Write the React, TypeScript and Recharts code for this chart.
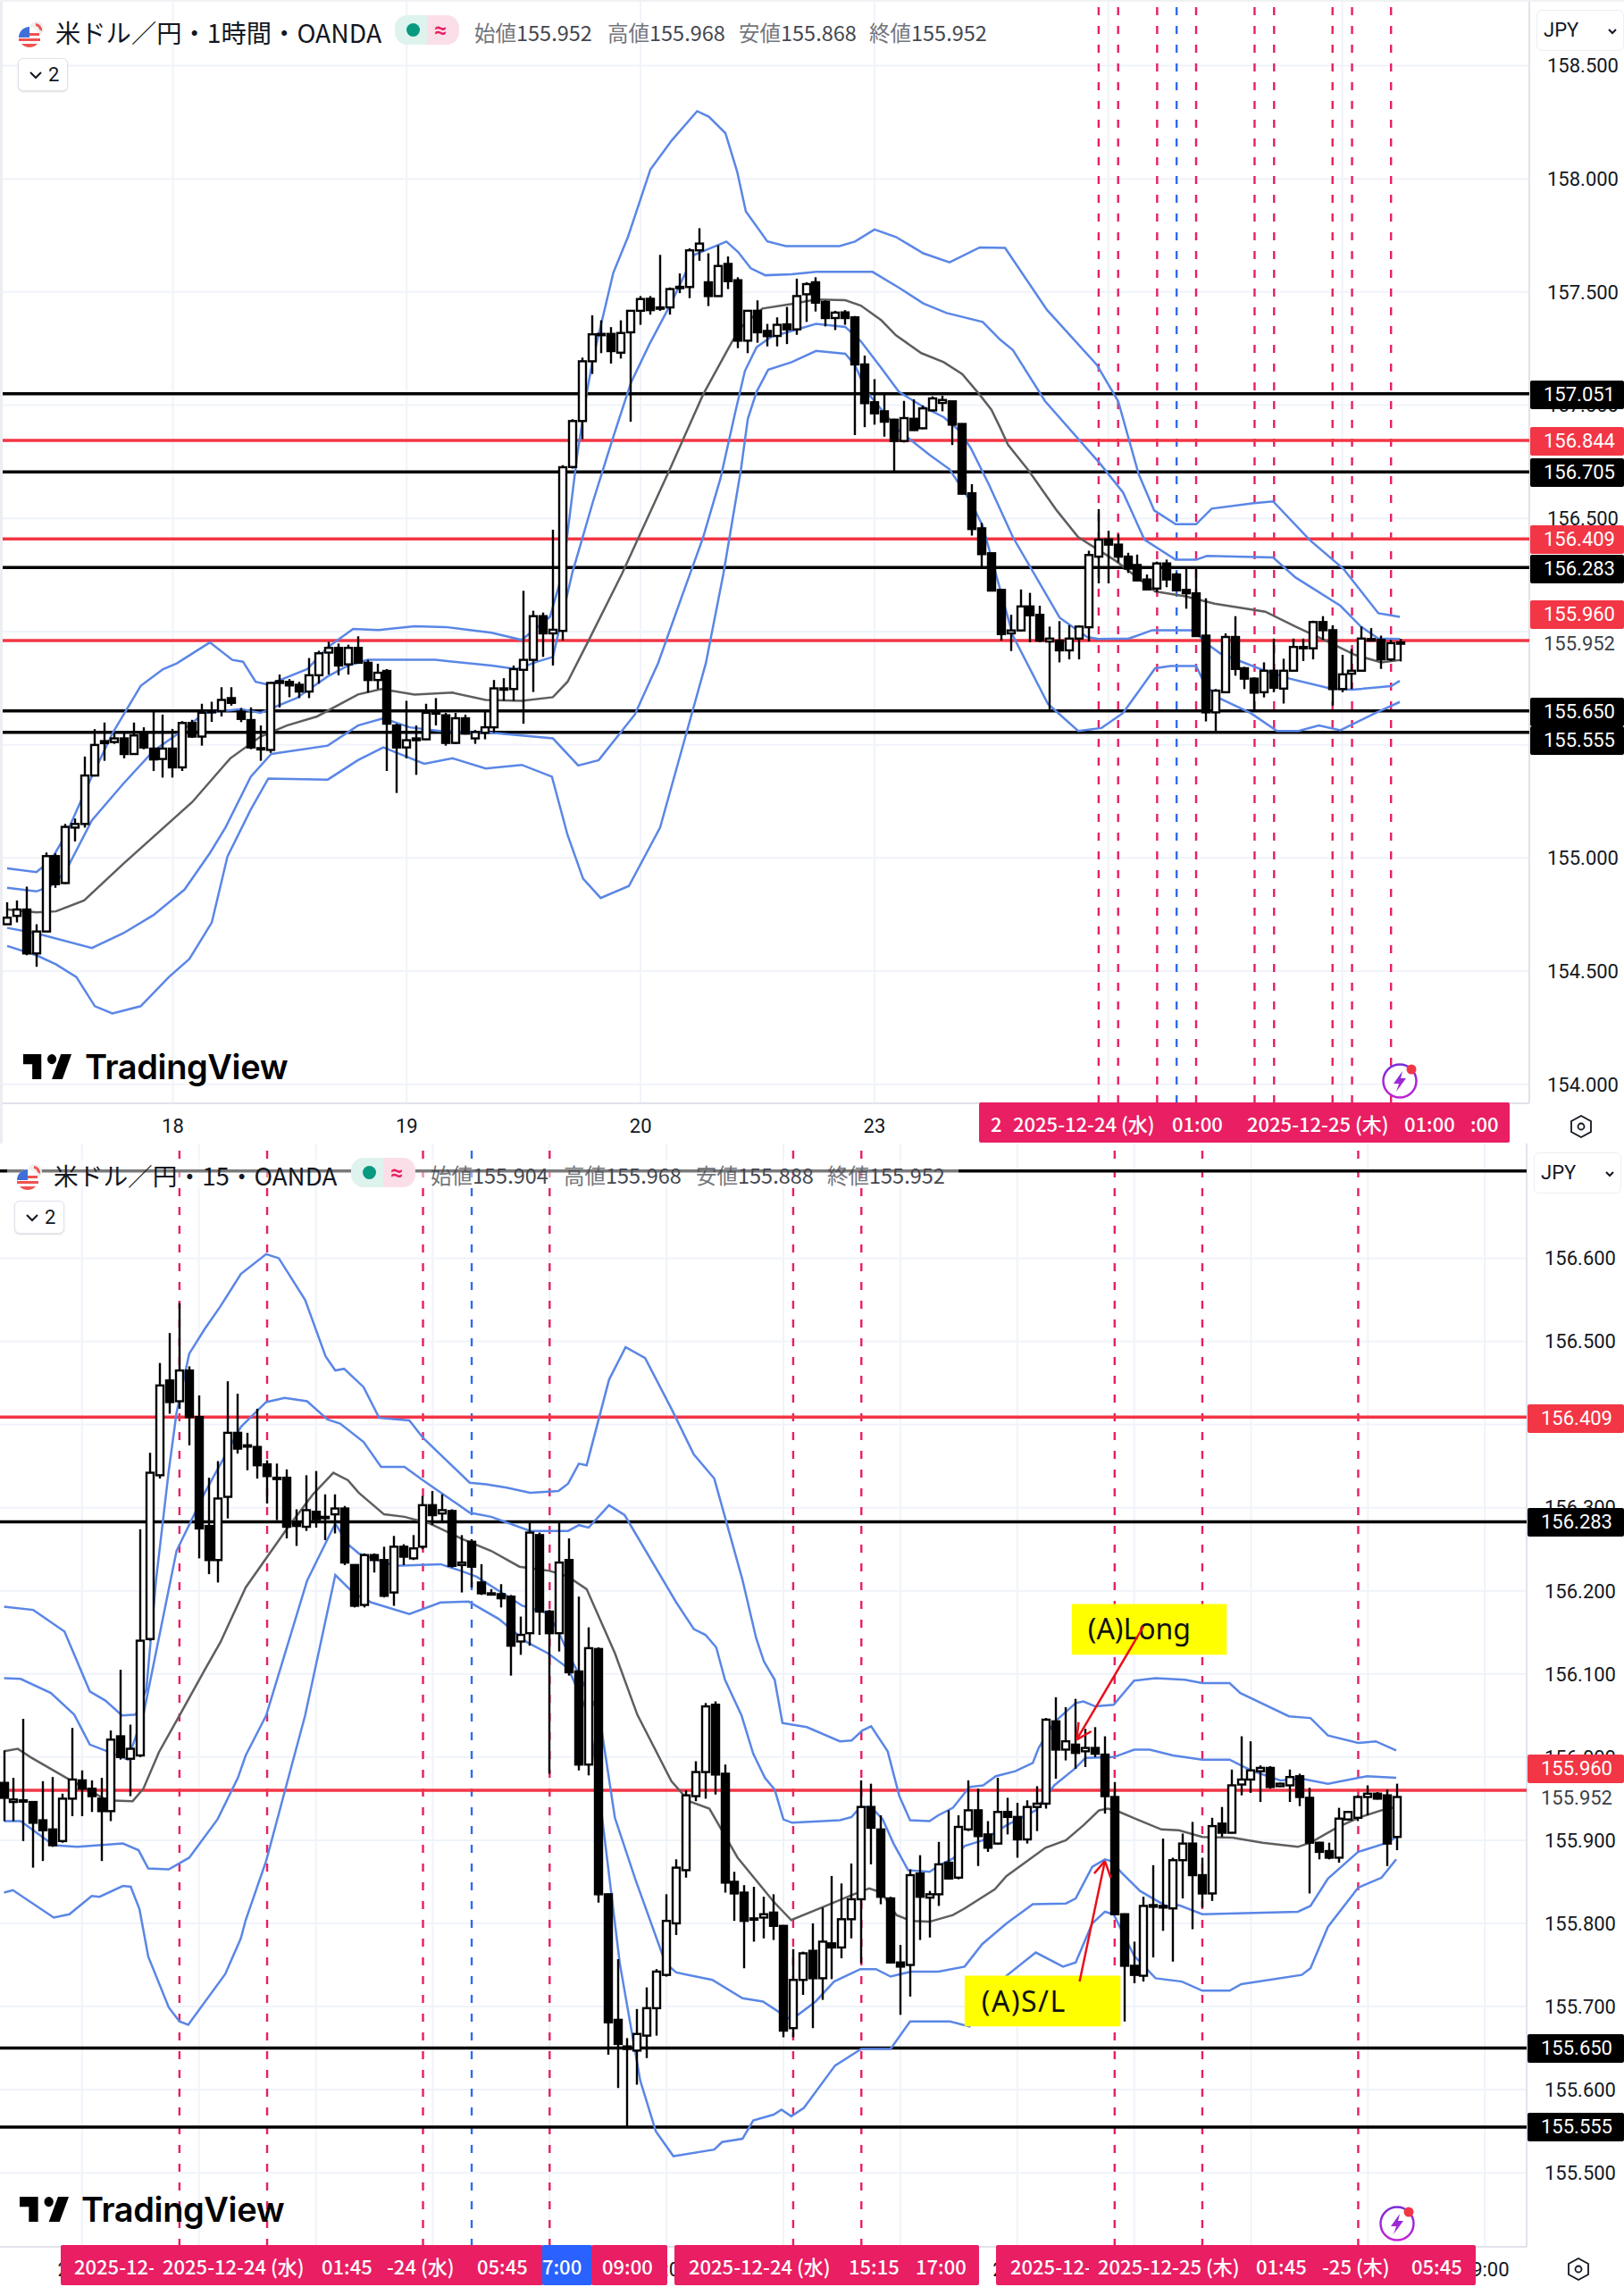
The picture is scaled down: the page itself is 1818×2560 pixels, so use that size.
import {
  Bar,
  CartesianGrid,
  ComposedChart,
  Line,
  ReferenceArea,
  ReferenceLine,
  XAxis,
  YAxis,
} from 'recharts';

// ---- 1 hour panel ----
const h1Open = [
  154.707,154.744,154.772,154.578,154.675,155.008,154.889,155.134,155.15,155.364,
  155.507,155.512,155.528,155.459,155.549,155.483,155.437,155.483,155.4,155.596,
  155.536,155.645,155.649,155.706,155.646,155.609,155.485,155.477,155.781,155.778,
  155.765,155.735,155.807,155.907,155.928,155.855,155.928,155.862,155.786,155.826,
  155.585,155.488,155.528,155.524,155.643,155.63,155.508,155.617,155.528,155.553,
  155.577,155.749,155.746,155.831,155.875,156.068,155.992,156.003,156.727,156.93,
  157.194,157.311,157.315,157.232,157.322,157.417,157.47,157.432,157.432,157.52,
  157.522,157.684,157.543,157.482,157.624,157.552,157.285,157.417,157.328,157.306,
  157.357,157.335,157.49,157.543,157.456,157.385,157.41,157.388,157.18,157.013,
  156.973,156.936,156.842,156.94,156.898,156.977,157.01,157.017,156.917,156.611,
  156.456,156.346,156.184,155.992,156.005,156.111,156.074,155.956,155.96,155.917,
  155.969,156.019,156.331,156.407,156.384,156.331,156.294,156.23,156.19,156.301,
  156.252,156.184,156.169,155.982,155.643,155.732,155.976,155.838,155.792,155.732,
  155.827,155.748,155.827,155.932,155.926,156.042,156.006,155.746,155.814,155.827,
  155.967,155.963,155.877,155.95,
];
const h1High = [
  154.804,154.812,154.873,154.707,155.024,155.02,155.15,155.174,155.448,155.569,
  155.598,155.553,155.553,155.598,155.577,155.649,155.633,155.57,155.604,155.61,
  155.681,155.69,155.754,155.754,155.662,155.665,155.585,155.778,155.81,155.79,
  155.778,155.883,155.915,155.955,155.947,155.942,155.979,155.875,155.858,155.834,
  155.593,155.694,155.585,155.681,155.706,155.641,155.641,155.633,155.565,155.649,
  155.786,155.794,155.85,156.18,156.092,156.084,156.45,156.735,156.938,157.21,
  157.397,157.375,157.345,157.375,157.42,157.482,157.482,157.664,157.52,157.582,
  157.693,157.782,157.671,157.706,157.657,157.565,157.42,157.463,157.359,157.388,
  157.434,157.559,157.543,157.565,157.463,157.417,157.42,157.394,157.219,157.115,
  157.046,156.94,157.019,157.026,156.999,157.039,157.042,157.02,156.92,156.651,
  156.48,156.348,156.186,156.074,156.186,156.171,156.114,156.022,156.046,156.028,
  156.028,156.357,156.541,156.445,156.43,156.348,156.34,156.252,156.309,156.318,
  156.261,156.276,156.278,156.147,155.746,155.992,156.068,155.844,155.798,155.864,
  155.969,155.88,155.969,155.969,156.048,156.068,156.028,155.897,155.923,156.022,
  156.015,155.982,155.963,155.968,
];
const h1Low = [
  154.707,154.715,154.57,154.519,154.672,154.868,154.885,155.073,155.134,155.36,
  155.429,155.504,155.44,155.457,155.48,155.384,155.355,155.355,155.384,155.53,
  155.496,155.601,155.625,155.673,155.6,155.48,155.429,155.464,155.665,155.71,
  155.706,155.706,155.77,155.81,155.807,155.81,155.858,155.73,155.746,155.384,
  155.287,155.44,155.367,155.52,155.585,155.496,155.504,155.545,155.504,155.524,
  155.553,155.694,155.694,155.593,155.733,155.888,155.85,155.96,156.72,156.85,
  157.138,157.23,157.184,157.206,156.927,157.355,157.4,157.417,157.4,157.495,
  157.473,157.638,157.438,157.48,157.513,157.252,157.23,157.276,157.26,157.26,
  157.27,157.311,157.368,157.414,157.348,157.332,157.355,156.868,156.903,156.914,
  156.861,156.706,156.835,156.887,156.894,156.973,156.973,156.824,156.605,156.424,
  156.282,156.18,155.96,155.914,156.0,155.953,155.953,155.651,155.864,155.877,
  155.877,155.956,156.213,156.213,156.305,156.259,156.222,156.182,156.173,156.196,
  156.18,156.101,155.976,155.603,155.555,155.73,155.805,155.746,155.653,155.709,
  155.732,155.682,155.822,155.87,155.877,155.963,155.673,155.732,155.746,155.824,
  155.956,155.835,155.87,155.868,
];
const h1Close = [
  154.736,154.772,154.578,154.675,155.008,154.884,155.137,155.15,155.364,155.499,
  155.516,155.528,155.459,155.541,155.488,155.435,155.483,155.4,155.596,155.536,
  155.641,155.649,155.698,155.685,155.614,155.488,155.481,155.773,155.773,155.762,
  155.735,155.807,155.904,155.928,155.85,155.928,155.862,155.786,155.818,155.593,
  155.488,155.52,155.52,155.641,155.638,155.508,155.617,155.549,155.556,155.577,
  155.749,155.743,155.834,155.875,156.068,155.992,156.008,156.726,156.93,157.194,
  157.313,157.315,157.239,157.319,157.417,157.469,157.42,157.429,157.513,157.523,
  157.684,157.714,157.482,157.615,157.548,157.285,157.417,157.322,157.305,157.355,
  157.335,157.482,157.535,157.453,157.385,157.409,157.385,157.18,157.009,156.964,
  156.927,156.842,156.943,156.89,156.986,157.03,157.023,156.914,156.609,156.453,
  156.342,156.181,155.989,156.005,156.111,156.072,155.96,155.969,155.917,155.969,
  156.022,156.338,156.406,156.384,156.331,156.278,156.226,156.186,156.301,156.23,
  156.182,156.169,155.98,155.643,155.739,155.976,155.835,155.792,155.73,155.827,
  155.752,155.827,155.932,155.926,156.042,156.006,155.746,155.811,155.827,155.969,
  155.96,155.877,155.949,155.952,
];
const h1Upper2 = [
  [0,154.954],[3,154.937],[4.5,154.99],[6,155.1],[8.7,155.36],[10.8,155.55],[13.7,155.76],[16,155.834],[17.4,155.859],
  [20.8,155.952],[23.1,155.875],[24.2,155.867],[25.5,155.778],[26.8,155.765],[30.8,155.834],[32.9,155.931],[35.5,156.012],
  [38.1,156.007],[41.8,156.023],[45,156.02],[49.7,155.995],[52.8,155.963],[55.7,156.065],[57,156.26],[58.5,156.782],
  [59.5,157.06],[60.1,157.203],[62.2,157.585],[63.7,157.743],[66,158.041],[68.2,158.17],[70.8,158.299],[72,158.275],[73.7,158.202],
  [74.9,158.033],[75.8,157.856],[78,157.724],[79.9,157.703],[85.4,157.703],[87,157.723],[89,157.776],[91.2,157.743],[94,157.671],[96.7,157.631],
  [99.8,157.697],[102.4,157.695],[106.7,157.421],[111.8,157.179],[114,157.018],[116.1,156.696],[117.7,156.535],
  [119.9,156.474],[122,156.474],[123.6,156.543],[127.9,156.567],[129.9,156.575],[133.7,156.403],[137.1,156.278],
  [140.7,156.081],[142.9,156.065],
];
const h1Upper1 = [
  [0,154.868],[3,154.852],[4.5,154.876],[6,154.941],[8.7,155.166],[11.9,155.327],[15,155.472],[17.4,155.545],[20.3,155.641],
  [24,155.657],[26,155.641],[29.7,155.706],[32.9,155.802],[35,155.85],[37,155.875],[43.9,155.875],[49.7,155.85],[52.3,155.834],
  [54.4,155.867],[56,155.888],[58,156.261],[58.5,156.335],[60.1,156.572],[62.2,156.861],[64,157.098],[65.9,157.269],[68,157.44],
  [70.5,157.664],[73.1,157.71],[73.8,157.723],[75,157.677],[76.3,157.605],[77.8,157.574],[80.5,157.578],[83,157.589],
  [88.8,157.589],[91.5,157.519],[94,157.45],[96.4,157.407],[100.1,157.368],[101.9,157.289],[103.2,157.244],[106.5,157.018],
  [112.1,156.744],[114.5,156.615],[116.7,156.406],[119.9,156.317],[122,156.317],[123.1,156.334],[129.9,156.327],[132.2,156.239],
  [136.8,156.114],[138.9,156.022],[140.7,155.969],[142.9,155.967],
];
const h1Basis = [
  [0,154.772],[3,154.76],[5,154.764],[7.9,154.812],[11.9,154.973],[19,155.247],[22.9,155.44],[26,155.536],[28.7,155.585],
  [31.8,155.625],[36,155.722],[38.4,155.746],[41.8,155.722],[45.7,155.73],[49.1,155.698],[52.8,155.694],[56,155.71],[57.5,155.778],
  [59.6,155.955],[63.1,156.256],[68,156.717],[71.4,157.046],[74.4,157.282],[75.4,157.348],[77.5,157.427],[80.5,157.447],
  [83,157.467],[86,157.464],[87.6,157.44],[89.7,157.375],[91.2,157.309],[93.8,157.23],[96.1,157.19],[98,157.138],[99.8,157.046],
  [101,156.98],[101.9,156.9],[102.7,156.825],[104.8,156.712],[107.7,156.535],[109.9,156.417],[113.8,156.311],[117.8,156.177],
  [120.9,156.156],[123.9,156.123],[129.1,156.088],[132.2,156.022],[135.5,155.956],[138.3,155.897],[141,155.864],[142.9,155.874],
];
const h1Lower1 = [
  [0,154.691],[3,154.667],[8.7,154.602],[11.9,154.667],[15,154.747],[18.2,154.86],[20.8,155.021],[22.4,155.134],[25,155.359],
  [27.1,155.459],[32.9,155.496],[36,155.585],[38.6,155.617],[41.3,155.577],[44.4,155.561],[49.7,155.553],[56,155.528],[58.6,155.408],
  [60.7,155.432],[64.4,155.633],[66.8,155.861],[69.2,156.151],[71.4,156.414],[73.2,156.677],[74.7,156.967],[75.7,157.151],
  [76.9,157.256],[78.4,157.302],[80.5,157.328],[83,157.359],[86,157.346],[87.6,157.282],[89.7,157.164],[91.5,157.059],[94,156.993],
  [96.1,156.947],[97.7,156.888],[98.9,156.809],[100.7,156.653],[103.2,156.417],[108,156.061],[110.8,155.976],[112,155.967],
  [115.1,155.969],[117.5,156.006],[121.8,156.006],[123,155.949],[124.5,155.903],[128.8,155.831],[131.6,155.792],[135.8,155.748],
  [138,155.743],[142,155.759],[142.9,155.782],
];
const h1Lower2 = [
  [0,154.611],[3,154.57],[5,154.53],[7.1,154.474],[9,154.345],[10.8,154.313],[13.7,154.345],[16.6,154.474],[18.7,154.554],
  [21,154.715],[22.6,155.005],[25,155.214],[26.8,155.351],[32.9,155.346],[36,155.432],[38.6,155.488],[42.8,155.416],[45.7,155.44],
  [49.1,155.395],[52.8,155.411],[55.9,155.359],[57.5,155.102],[59.1,154.908],[60.9,154.823],[63.8,154.876],[67,155.134],
  [69.6,155.536],[71.7,155.861],[73.5,156.256],[75.3,156.717],[76,156.94],[76.9,157.059],[78.1,157.157],[80.5,157.19],[83,157.24],
  [86,157.227],[87,157.177],[88.2,157.059],[91.5,156.888],[94.6,156.782],[96.7,156.717],[98.9,156.572],[100.1,156.467],
  [103.2,155.982],[106.8,155.68],[109.9,155.561],[112.3,155.574],[114.5,155.64],[117.8,155.838],[119.4,155.848],[122,155.848],
  [123,155.759],[124.5,155.703],[127.6,155.64],[130.3,155.561],[132.5,155.561],[134.6,155.585],[136.8,155.564],[140.4,155.64],
  [142.9,155.689],
];
const h1PriceTicks = [158.5, 158, 157.5, 157, 156.5, 155.5, 155, 154.5, 154];
const h1GridPrices = [158.5, 158, 157.5, 157, 156.5, 156, 155.5, 155, 154.5, 154];
const h1TimeTicks = [17, 41, 65, 89, 113, 137];
const h1TimeLabels = ['18', '19', '20', '23', '', ''];
const h1RedDashes = [112, 114, 118, 122, 128, 130, 136, 138, 142];
const h1BlueDashes = [120];
const h1BlackLevels = [157.051, 156.705, 156.283, 155.65, 155.555];
const h1RedLevels = [156.844, 156.409, 155.96];
const h1TagPrices = [157.051, 156.844, 156.705, 156.409, 156.283, 155.96, 155.952, 155.65, 155.555];
const h1TagShifts = [1, 1, 1, 1, 1.5, -29, 1.5, 1.5, 9];

// ---- 15 minute panel ----
const m15Open = [
  155.969,155.946,155.947,155.946,155.924,155.913,155.899,155.95,155.972,155.962,
  155.95,155.935,156.025,155.998,156.002,156.142,156.339,156.453,156.428,156.465,
  156.409,156.278,156.237,156.313,156.39,156.375,156.373,156.352,156.336,156.336,
  156.283,156.277,156.295,156.289,156.292,156.299,156.231,156.183,156.243,156.237,
  156.198,156.253,156.239,156.253,156.303,156.293,156.296,156.231,156.259,156.21,
  156.197,156.196,156.193,156.139,156.149,156.267,156.175,156.149,156.237,156.103,
  155.991,156.13,155.835,155.684,155.652,155.647,155.665,155.698,155.738,155.8,
  155.864,155.953,155.982,156.063,155.98,155.85,155.837,155.806,155.807,155.813,
  155.797,155.674,155.732,155.767,155.734,155.776,155.771,155.805,155.829,155.94,
  155.913,155.83,155.753,155.75,155.86,155.831,155.835,155.873,155.855,155.913,
  155.936,155.907,155.896,155.934,155.928,155.901,155.94,155.944,156.043,156.009,
  156.015,156.007,156.011,156.003,155.952,155.811,155.749,155.737,155.822,155.821,
  155.818,155.876,155.896,155.858,155.836,155.92,155.909,155.967,155.973,155.983,
  155.987,155.965,155.966,155.977,155.951,155.897,155.887,155.879,155.925,155.927,
  155.952,155.956,155.954,155.904,
];
const m15High = [
  156.008,155.975,156.046,155.947,155.971,155.976,155.956,156.035,155.984,155.972,
  155.975,156.032,156.105,156.039,156.274,156.366,156.474,156.51,156.546,156.47,
  156.435,156.336,156.356,156.452,156.437,156.39,156.419,156.357,156.353,156.346,
  156.298,156.339,156.344,156.316,156.316,156.302,156.232,156.245,156.245,156.253,
  156.266,156.256,156.267,156.314,156.32,156.316,156.298,156.267,156.262,156.232,
  156.202,156.208,156.195,156.169,156.283,156.27,156.177,156.283,156.263,156.193,
  156.156,156.132,155.836,155.757,155.662,155.697,155.723,155.745,155.835,155.877,
  155.96,155.995,156.065,156.067,155.991,155.862,155.846,155.844,155.832,155.835,
  155.798,155.769,155.766,155.8,155.819,155.857,155.848,155.872,155.972,155.968,
  155.93,155.832,155.774,155.865,155.882,155.839,155.898,155.936,155.93,155.972,
  155.962,155.923,155.975,155.951,155.945,155.948,155.965,156.047,156.072,156.06,
  156.07,156.034,156.036,156.025,155.97,155.812,155.778,155.832,155.87,155.902,
  155.879,155.908,155.922,155.879,155.927,155.94,155.985,156.025,156.019,155.99,
  155.989,155.969,155.985,155.98,155.963,155.898,155.897,155.939,155.935,155.954,
  155.966,155.958,155.961,155.968,
];
const m15Low = [
  155.923,155.923,155.899,155.867,155.875,155.892,155.897,155.929,155.929,155.934,
  155.875,155.923,155.997,155.953,156.0,156.14,156.335,156.413,156.419,156.375,
  156.239,156.22,156.21,156.287,156.365,156.345,156.335,156.305,156.285,156.263,
  156.254,156.272,156.276,156.261,156.269,156.231,156.18,156.18,156.222,156.192,
  156.182,156.231,156.237,156.25,156.279,156.282,156.228,156.198,156.204,156.195,
  156.195,156.18,156.098,156.123,156.134,156.147,155.98,156.127,156.098,155.984,
  155.978,155.825,155.642,155.602,155.556,155.606,155.638,155.665,155.736,155.786,
  155.855,155.947,155.95,155.955,155.837,155.803,155.746,155.778,155.782,155.78,
  155.663,155.663,155.714,155.674,155.708,155.733,155.758,155.782,155.752,155.871,
  155.823,155.752,155.69,155.712,155.78,155.783,155.821,155.853,155.853,155.911,
  155.869,155.886,155.895,155.907,155.879,155.896,155.911,155.938,155.974,155.996,
  155.986,155.988,156.0,155.932,155.81,155.682,155.728,155.73,155.759,155.791,
  155.754,155.83,155.793,155.819,155.827,155.904,155.908,155.954,155.957,155.946,
  155.962,155.964,155.946,155.941,155.836,155.877,155.877,155.873,155.924,155.923,
  155.93,155.949,155.869,155.888,
];
const m15Close = [
  155.951,155.949,155.948,155.921,155.912,155.894,155.95,155.973,155.962,155.953,
  155.935,156.021,156.0,156.01,156.14,156.342,156.447,156.427,156.465,156.409,
  156.275,156.237,156.311,156.39,156.371,156.374,156.351,156.338,156.335,156.277,
  156.278,156.297,156.286,156.288,156.299,156.234,156.182,156.243,156.237,156.194,
  156.253,156.241,156.251,156.303,156.291,156.297,156.23,156.234,156.229,156.197,
  156.196,156.191,156.134,156.147,156.27,156.175,156.149,156.234,156.102,155.991,
  156.131,155.835,155.681,155.655,155.649,155.667,155.698,155.742,155.803,155.867,
  155.954,155.982,156.061,155.979,155.849,155.836,155.803,155.805,155.811,155.797,
  155.671,155.732,155.764,155.734,155.778,155.771,155.805,155.829,155.94,155.915,
  155.832,155.753,155.748,155.858,155.832,155.835,155.871,155.854,155.916,155.936,
  155.905,155.891,155.934,155.928,155.901,155.94,155.944,156.045,156.009,156.019,
  156.005,156.011,156.004,155.953,155.811,155.749,155.738,155.821,155.82,155.819,
  155.876,155.896,155.858,155.836,155.917,155.909,155.966,155.973,155.984,155.987,
  155.964,155.968,155.976,155.952,155.897,155.886,155.879,155.926,155.934,155.952,
  155.956,155.95,155.896,155.952,
];
const m15Upper2 = [
  [0,156.181],[3,156.177],[6.2,156.151],[8.8,156.079],[10.4,156.068],[12.1,156.05],[13.5,156.051],[14.6,156.081],[15.6,156.213],
  [16.9,156.344],[17.7,156.414],[19,156.485],[20.6,156.515],[22.2,156.542],[24.3,156.581],[26.9,156.605],[28.2,156.6],[30.9,156.55],
  [33,156.482],[34,156.465],[34.9,156.467],[36.9,156.445],[38.5,156.408],[41.6,156.405],[43,156.384],[47.8,156.33],[49.5,156.328],
  [51.6,156.324],[54,156.318],[56.9,156.32],[57.9,156.329],[59,156.353],[59.8,156.351],[62.1,156.454],[63.8,156.493],[65.8,156.48],
  [68.5,156.419],[70.8,156.364],[72.9,156.335],[75.8,156.213],[77.2,156.143],[78,156.115],[79.1,156.093],[79.9,156.041],[82.4,156.036],
  [85.8,156.019],[87,156.02],[88.1,156.032],[89,156.037],[90.7,156.007],[91.9,155.953],[93,155.924],[95,155.923],[95.9,155.93],
  [97.4,155.939],[99.1,155.964],[100.5,155.966],[101.8,155.977],[103.8,155.983],[105.6,155.993],[106.2,156.011],[107.8,156.042],
  [110,156.065],[110.8,156.067],[112,156.061],[113.9,156.063],[116,156.092],[118.2,156.095],[121.2,156.093],[123,156.089],[125.8,156.089],
  [126.9,156.077],[131.9,156.049],[134.1,156.047],[135.9,156.026],[139,156.017],[140.8,156.019],[142.9,156.008],
];
const m15Upper1 = [
  [0,156.095],[1.7,156.094],[4.8,156.077],[7.2,156.051],[8.8,156.015],[10.6,156.007],[12.7,155.997],[14.3,156.051],[17.7,156.248],
  [20.6,156.318],[24.3,156.397],[26.9,156.427],[28.8,156.432],[31.1,156.428],[33.2,156.406],[34.5,156.401],[36.9,156.379],[38.7,156.349],
  [41.1,156.349],[43,156.333],[47.8,156.294],[50,156.289],[54,156.272],[57.9,156.272],[59,156.279],[60,156.276],[62.1,156.303],
  [63.7,156.291],[69,156.186],[70.8,156.154],[72,156.147],[73.1,156.132],[74,156.093],[75.7,156.05],[76.9,156.004],[78.1,155.975],
  [79.1,155.961],[80,155.925],[80.9,155.921],[85.8,155.924],[87,155.928],[87.9,155.94],[89,155.94],[90.2,155.925],[91.3,155.896],
  [92.8,155.864],[95,155.862],[96.2,155.871],[97.4,155.878],[98.6,155.893],[100.5,155.9],[102.9,155.918],[105.9,155.936],[107.8,155.966],
  [109.9,155.986],[111,155.999],[113.9,156],[116,156.009],[117.6,156.009],[120,156.002],[123,155.997],[125.8,155.997],[128,155.984],
  [131,155.972],[133.2,155.974],[135.9,155.968],[139.9,155.977],[142.9,155.975],
];
const m15Basis = [
  [0,156.007],[1.4,156.01],[2.7,156],[6.4,155.975],[10.6,155.948],[13.2,155.947],[14.3,155.962],[15.9,156.006],[18,156.05],[20.6,156.105],
  [22.2,156.138],[24.8,156.204],[29,156.274],[31.7,156.316],[33.8,156.342],[35.3,156.333],[36.4,156.318],[39,156.292],[41.1,156.289],
  [43.7,156.281],[46.9,156.263],[50,156.248],[52.9,156.229],[56,156.224],[57.9,156.217],[59.8,156.202],[62.7,156.125],[65,156.051],
  [68.5,155.971],[70.3,155.947],[72.4,155.938],[75.3,155.879],[79,155.826],[80.8,155.804],[83.9,155.819],[87,155.834],[88.8,155.842],
  [90.1,155.837],[91.6,155.81],[93.1,155.803],[95,155.802],[97.4,155.81],[98.6,155.818],[101.7,155.841],[102.9,155.857],[106.9,155.891],
  [109,155.9],[110.8,155.918],[112.4,155.936],[113.3,155.938],[114.5,155.934],[116.3,155.925],[118.8,155.913],[120.6,155.912],[123,155.904],
  [126.1,155.903],[129.2,155.897],[132.8,155.892],[134.1,155.897],[136.8,155.915],[139,155.927],[141.4,155.936],[142.9,155.94],
];
const m15Lower1 = [
  [0,155.923],[1.7,155.923],[5.1,155.894],[7.5,155.892],[12.2,155.896],[13.8,155.888],[14.8,155.866],[16.9,155.865],[19,155.879],[21.9,155.925],
  [24,155.975],[24.8,156.002],[26.9,156.05],[31.1,156.212],[34,156.281],[35.3,156.256],[36.4,156.245],[40.1,156.23],[44.8,156.232],
  [46.9,156.224],[48.5,156.217],[53.2,156.182],[55.8,156.173],[56.9,156.151],[57.9,156.125],[61.1,156.051],[62.7,155.927],[64.8,155.853],
  [67.9,155.752],[69,155.741],[72.7,155.732],[75.8,155.71],[77.9,155.706],[80.5,155.686],[81.5,155.69],[83.3,155.706],[85.2,155.73],
  [87.9,155.745],[89.5,155.745],[91,155.736],[93.1,155.742],[95.9,155.742],[98.6,155.748],[100.4,155.775],[102.9,155.8],[105.6,155.823],
  [109,155.824],[110,155.83],[111.7,155.868],[113,155.877],[113.6,155.875],[114.7,155.861],[116.6,155.839],[119.4,155.82],[120.6,155.822],
  [123,155.811],[132.8,155.814],[134.1,155.821],[135.9,155.854],[139,155.886],[142,155.897],[142.9,155.904],
];
const m15Lower2 = [
  [0,155.837],[0.9,155.84],[5.1,155.807],[6.7,155.811],[9,155.833],[9.8,155.832],[12.2,155.845],[13,155.844],[13.9,155.817],[14.8,155.76],
  [16.9,155.699],[18,155.682],[18.9,155.678],[22.7,155.739],[24.3,155.782],[24.8,155.804],[26.9,155.875],[29,155.967],[30.9,156.05],
  [34,156.219],[35.9,156.197],[37.7,156.186],[41.6,156.172],[44.8,156.186],[47.7,156.187],[50.8,156.166],[53.7,156.138],[55.8,156.125],
  [57.9,156.107],[60,156.051],[60.8,155.984],[63.2,155.752],[65.3,155.611],[66.9,155.55],[68.7,155.52],[72.9,155.528],[73.7,155.537],
  [75.8,155.541],[76.9,155.563],[79,155.57],[79.8,155.576],[80.8,155.568],[82.1,155.578],[85.3,155.629],[88,155.649],[91,155.649],
  [93,155.682],[97.1,155.682],[99.1,155.676],[102.9,155.737],[105.9,155.765],[108.7,155.748],[110,155.753],[111.7,155.8],[113,155.814],
  [113.9,155.811],[116,155.761],[118.2,155.734],[120.9,155.73],[123,155.719],[125.8,155.719],[127,155.727],[133.2,155.738],[134.1,155.746],
  [135.9,155.796],[139,155.843],[141.4,155.855],[142.9,155.877],
];
const m15PriceTicks = [156.6, 156.5, 156.3, 156.2, 156.1, 156, 155.9, 155.8, 155.7, 155.6, 155.5];
const m15GridPrices = [156.6, 156.5, 156.4, 156.3, 156.2, 156.1, 156, 155.9, 155.8, 155.7, 155.6, 155.5];
const m15TimeTicks = [8, 20, 32, 44, 56, 68, 80, 92, 104, 116, 128, 140, 152];
const m15TimeLabels = ['21:00', '', '', '', '', '12:00', '', '', '21:00', '', '', '', '09:00'];
const m15RedDashes = [18, 27, 43, 56, 81, 88, 114, 123, 139];
const m15BlueDashes = [48];
const m15BlackLevels = [156.705, 156.283, 155.65, 155.555];
const m15RedLevels = [156.409, 155.96];
const m15TagPrices = [156.409, 156.283, 155.96, 155.952, 155.65, 155.555];
const m15TagShifts = [1.5, 1, -24, 1, 0, 0];

const BAND_BLUE = '#5a86e6';
const RED = '#f23645';
const PINK = '#e91e63';
const TEXT = '#131722';
const FONT = 'Roboto, sans-serif';
const JP = '"Noto Sans CJK JP", Roboto, sans-serif';
const NOTE_FONT = '"Noto Sans", sans-serif';
const LAST_PRICE = 155.952;
const PLOT_HEIGHT = 1235;

const toRows = (o: number[], h: number[], l: number[], c: number[]) =>
  o.map((v, i) => ({ i, open: v, high: h[i], low: l[i], close: c[i], range: [l[i], h[i]] }));
const toPoints = (pairs: number[][]) => pairs.map(([i, v]) => ({ i, v }));

const CandleShape = (props: any) => {
  const { x, y, width, height, payload } = props;
  const { open, high, low, close } = payload;
  const cx = Math.round(x + width / 2);
  const top = Math.min(y, y + height);
  const h = Math.abs(height);
  const py = (v: number) => top + ((high - v) / (high - low)) * h;
  const bodyTop = py(Math.max(open, close));
  const bodyBottom = py(Math.min(open, close));
  return (
    <g>
      <line x1={cx} x2={cx} y1={top} y2={top + h} stroke="#000" strokeWidth={2.4} />
      <rect
        x={cx - 4}
        y={bodyTop}
        width={8}
        height={Math.max(bodyBottom - bodyTop, 1.5)}
        fill={close >= open ? '#fff' : '#000'}
        stroke="#000"
        strokeWidth={2.4}
      />
    </g>
  );
};

const Panel = ({
  plotLeft, axisWidth, xDomain, yDomain, rows, bands, priceTicks, gridPrices,
  timeTicks, timeLabels, redDashes, blueDashes, blackLevels, redLevels, children,
}: any) => (
  <ComposedChart
    width={1818}
    height={1280}
    data={rows}
    margin={{ top: 0, right: 0, bottom: 0, left: plotLeft }}
  >
    <CartesianGrid
      stroke="#f0f3fa"
      strokeWidth={2}
      horizontalValues={gridPrices}
      verticalValues={timeTicks}
      zIndex={-100}
    />
    <XAxis
      type="number"
      dataKey="i"
      domain={xDomain}
      allowDataOverflow
      ticks={timeTicks}
      interval={0}
      height={45}
      tickLine={false}
      tickMargin={11}
      zIndex={50}
      axisLine={{ stroke: '#e0e3eb', strokeWidth: 2 }}
      tick={{ fontFamily: FONT, fontSize: 22, fill: TEXT }}
      tickFormatter={(v: number) => timeLabels[timeTicks.indexOf(v)]}
    />
    <YAxis
      type="number"
      orientation="right"
      width={axisWidth}
      domain={yDomain}
      allowDataOverflow
      ticks={priceTicks}
      interval={0}
      tickLine={false}
      tickMargin={14}
      zIndex={50}
      axisLine={{ stroke: '#e0e3eb', strokeWidth: 2 }}
      tick={{ fontFamily: FONT, fontSize: 22, fill: TEXT, textAnchor: 'start' }}
      tickFormatter={(v: number) => v.toFixed(3)}
    />
    {redDashes.map((v: number) => (
      <ReferenceLine key={v} x={v} stroke={PINK} strokeWidth={2.4} strokeDasharray="9 12" zIndex={100} />
    ))}
    {blueDashes.map((v: number) => (
      <ReferenceLine key={v} x={v} stroke="#2f6bef" strokeWidth={2.4} strokeDasharray="9 12" zIndex={100} />
    ))}
    {blackLevels.map((v: number) => (
      <ReferenceLine key={v} y={v} stroke="#000" strokeWidth={3.5} zIndex={110} />
    ))}
    {redLevels.map((v: number) => (
      <ReferenceLine key={v} y={v} stroke={RED} strokeWidth={3.5} zIndex={110} />
    ))}
    <Line data={toPoints(bands.upper2)} dataKey="v" stroke={BAND_BLUE} strokeWidth={2.5} dot={false} activeDot={false} isAnimationActive={false} zIndex={200} />
    <Line data={toPoints(bands.upper1)} dataKey="v" stroke={BAND_BLUE} strokeWidth={2.5} dot={false} activeDot={false} isAnimationActive={false} zIndex={200} />
    <Line data={toPoints(bands.basis)} dataKey="v" stroke="#5e5e5e" strokeWidth={2.5} dot={false} activeDot={false} isAnimationActive={false} zIndex={200} />
    <Line data={toPoints(bands.lower1)} dataKey="v" stroke={BAND_BLUE} strokeWidth={2.5} dot={false} activeDot={false} isAnimationActive={false} zIndex={200} />
    <Line data={toPoints(bands.lower2)} dataKey="v" stroke={BAND_BLUE} strokeWidth={2.5} dot={false} activeDot={false} isAnimationActive={false} zIndex={200} />
    <Bar dataKey="range" barSize={8} shape={<CandleShape />} isAnimationActive={false} zIndex={300} />
    {children}
  </ComposedChart>
);

const Box = ({ left, top, width, height, style, children }: any) => (
  <div style={{ position: 'absolute', left, top, width, height, ...style }}>{children}</div>
);

const Txt = ({ left, top, size = 22, color = TEXT, font = FONT, weight = 400, style, children }: any) => (
  <span
    style={{
      position: 'absolute', left, top, fontSize: size, lineHeight: '30px', color,
      fontFamily: font, fontWeight: weight, whiteSpace: 'nowrap', ...style,
    }}
  >
    {children}
  </span>
);

// price tags sit over the scale text, placed from the same price range as the panel
const PriceTags = ({ panelTop, left, yDomain, prices, shifts, redLevels }: any) => (
  <>
    {prices.map((v: number, k: number) => {
      const cy = panelTop + ((yDomain[1] - v) / (yDomain[1] - yDomain[0])) * PLOT_HEIGHT + shifts[k];
      const isLast = v === LAST_PRICE;
      return (
        <Box
          key={v}
          left={left}
          top={cy - 16}
          width={1818 - left}
          height={32}
          style={{ background: isLast ? 'transparent' : redLevels.includes(v) ? RED : '#000', borderRadius: 2 }}
        >
          <Txt left={15} top={1} color={isLast ? '#3c3f48' : '#fff'}>{v.toFixed(3)}</Txt>
        </Box>
      );
    })}
  </>
);

const OhlcItem = ({ left, top, label, value }: any) => (
  <Txt left={left} top={top} size={23.5} color="#44474f" font={JP}>
    <span style={{ opacity: 0.75 }}>{label}</span>
    {value}
  </Txt>
);

const Header = ({ top, title, titleLeft, pillLeft, items, titleSize }: any) => (
  <>
    <svg style={{ position: 'absolute', left: titleLeft - 42, top: top + 6 }} width={30} height={32} viewBox="0 0 30 32">
      <circle cx={21} cy={9} r={8} fill="#eee" />
      <path d="M20 3 A8 8 0 0 1 27 12 L24 10 A5 5 0 0 0 20 6 Z" fill="#ef5350" />
      <circle cx={13} cy={19} r={12} fill="#fff" />
      <path d="M2 14 H24 V17 H2 Z M1 20 H25 V23 H1 Z M4 26 H22 A12 12 0 0 1 4 26 Z" fill="#ef5350" />
      <path d="M1 19 A12 12 0 0 1 13 7 V19 Z" fill="#3f6fd8" />
    </svg>
    <Txt left={titleLeft} top={top + 4} size={titleSize} font={JP}>{title}</Txt>
    <Box left={pillLeft} top={top} width={36} height={33} style={{ background: '#dff3ee', borderRadius: '14px 0 0 14px' }} />
    <Box left={pillLeft + 36} top={top} width={36} height={33} style={{ background: '#fbdfe8', borderRadius: '0 14px 14px 0' }} />
    <Box left={pillLeft + 13} top={top + 9} width={15} height={15} style={{ background: '#089981', borderRadius: 8 }} />
    <Txt left={pillLeft + 44} top={top + 2} size={25} color="#e91e63" weight={700}>≈</Txt>
    {items.map((it: any) => (
      <OhlcItem key={it.label} left={it.left} top={top + 4} label={it.label} value={it.value} />
    ))}
  </>
);

const CountBox = ({ left, top }: any) => (
  <Box
    left={left}
    top={top}
    width={56}
    height={37}
    style={{ background: '#fff', border: '1.5px solid #e0e3eb', borderRadius: 6, boxSizing: 'border-box', boxShadow: '0 1px 2px #ddd' }}
  >
    <svg style={{ position: 'absolute', left: 11, top: 13 }} width={16} height={10} viewBox="0 0 16 10">
      <path d="M2 2 L8 8 L14 2" stroke={TEXT} strokeWidth={2} fill="none" />
    </svg>
    <Txt left={33} top={3} size={22} font={FONT}>2</Txt>
  </Box>
);

const JpyBox = ({ left, top }: any) => (
  <Box left={left} top={top} width={98} height={46} style={{ background: '#fff', border: '1.5px solid #eceef3', borderRadius: 6, boxSizing: 'border-box' }}>
    <Txt left={7} top={7} size={22}>JPY</Txt>
    <svg style={{ position: 'absolute', left: 78, top: 19 }} width={12} height={8} viewBox="0 0 12 8">
      <path d="M2 2 L6 6 L10 2" stroke={TEXT} strokeWidth={2} fill="none" />
    </svg>
  </Box>
);

const Logo = ({ left, top, iconWidth, textLeft }: any) => (
  <>
    <svg style={{ position: 'absolute', left, top }} width={iconWidth} height={28} viewBox="2 6 32 15" preserveAspectRatio="none">
      <path d="M14 6H2v6h6v9h6V6Zm14 15h-7l6-15h7l-6 15Zm-7-9a3 3 0 1 0 0-6 3 3 0 0 0 0 6Z" fill="#000" />
    </svg>
    <Txt left={textLeft} top={top - 1} size={38} color="#000" font="Inter, sans-serif" weight={600}>
      <span style={{ letterSpacing: -0.4 }}>TradingView</span>
    </Txt>
  </>
);

const Bolt = ({ cx, cy, id }: any) => (
  <svg style={{ position: 'absolute', left: cx - 24, top: cy - 26 }} width={48} height={50} viewBox="0 0 48 50">
    <defs>
      <linearGradient id={id} x1="0" y1="0" x2="0" y2="1">
        <stop offset="0%" stopColor="#7b2bd9" />
        <stop offset="100%" stopColor="#c026d3" />
      </linearGradient>
    </defs>
    <circle cx={24} cy={26} r={18.5} fill="#fff" stroke={`url(#${id})`} strokeWidth={2.5} />
    <path d="M27 15 L17 29 H23 L20 38 L31 23 H25 Z" fill={`url(#${id})`} />
    <circle cx={37} cy={13} r={5.5} fill="#f23645" />
  </svg>
);

const Gear = ({ left, top }: any) => (
  <svg style={{ position: 'absolute', left, top }} width={26} height={28} viewBox="0 0 26 28">
    <path d="M13 2 L24 8 V20 L13 26 L2 20 V8 Z" fill="none" stroke={TEXT} strokeWidth={1.8} />
    <circle cx={13} cy={14} r={3.5} fill="none" stroke={TEXT} strokeWidth={1.8} />
  </svg>
);

// one time band on the scale: coloured block, each label paints over the tail of the one before
const TimeBlock = ({ left, top, width, color, items }: any) => (
  <div style={{ position: 'absolute', left, top, width, height: 45, background: color, overflow: 'hidden', borderRadius: 2 }}>
    {items.map(([x, text]: any) => (
      <Txt
        key={x + text}
        left={x - left - 10}
        top={8}
        size={22}
        color="#fff"
        font={JP}
        weight={500}
        style={{ background: color, paddingLeft: 10 }}
      >
        {text}
      </Txt>
    ))}
  </div>
);

const h1Rows = toRows(h1Open, h1High, h1Low, h1Close);
const m15Rows = toRows(m15Open, m15High, m15Low, m15Close);
const h1YDomain = [153.916, 158.79];
const m15YDomain = [155.411, 156.738];

export default function App() {
  return (
    <div style={{ position: 'absolute', left: 0, top: 0, width: 1818, height: 2560, background: '#fff', overflow: 'hidden' }}>
      <div style={{ position: 'absolute', left: 0, top: 0 }}>
        <Panel
          plotLeft={3}
          axisWidth={106}
          xDomain={[-0.458, 156.19]}
          yDomain={h1YDomain}
          rows={h1Rows}
          bands={{ upper2: h1Upper2, upper1: h1Upper1, basis: h1Basis, lower1: h1Lower1, lower2: h1Lower2 }}
          priceTicks={h1PriceTicks}
          gridPrices={h1GridPrices}
          timeTicks={h1TimeTicks}
          timeLabels={h1TimeLabels}
          redDashes={h1RedDashes}
          blueDashes={h1BlueDashes}
          blackLevels={h1BlackLevels}
          redLevels={h1RedLevels}
        />
      </div>
      <div style={{ position: 'absolute', left: 0, top: 1280 }}>
        <Panel
          plotLeft={0}
          axisWidth={109}
          xDomain={[-0.42, 156.29]}
          yDomain={m15YDomain}
          rows={m15Rows}
          bands={{ upper2: m15Upper2, upper1: m15Upper1, basis: m15Basis, lower1: m15Lower1, lower2: m15Lower2 }}
          priceTicks={m15PriceTicks}
          gridPrices={m15GridPrices}
          timeTicks={m15TimeTicks}
          timeLabels={m15TimeLabels}
          redDashes={m15RedDashes}
          blueDashes={m15BlueDashes}
          blackLevels={m15BlackLevels}
          redLevels={m15RedLevels}
        >
          <ReferenceArea
            x1={109.6}
            x2={125.5}
            y1={156.123}
            y2={156.184}
            fill="#ffff00"
            fillOpacity={1}
            stroke="none"
            ifOverflow="visible"
            zIndex={600}
            label={(p: any) => (
              <text x={p.viewBox.x + 18} y={p.viewBox.y + 39} fontFamily={NOTE_FONT} fontSize={32} fill="#111">
                (A)Long
              </text>
            )}
          />
          <ReferenceArea
            x1={98.6}
            x2={114.6}
            y1={155.676}
            y2={155.737}
            fill="#ffff00"
            fillOpacity={1}
            stroke="none"
            ifOverflow="visible"
            zIndex={600}
            label={(p: any) => (
              <text x={p.viewBox.x + 19} y={p.viewBox.y + 40} fontFamily={NOTE_FONT} fontSize={32} letterSpacing={1.5} fill="#111">
                (A)S/L
              </text>
            )}
          />
          <ReferenceLine segment={[{ x: 116.95, y: 156.157 }, { x: 110.1, y: 156.021 }]} stroke="#e8101a" strokeWidth={2.5} ifOverflow="visible" zIndex={700} />
          <ReferenceLine segment={[{ x: 110.3, y: 156.042 }, { x: 110.1, y: 156.021 }]} stroke="#e8101a" strokeWidth={2.5} ifOverflow="visible" zIndex={700} />
          <ReferenceLine segment={[{ x: 111.6, y: 156.031 }, { x: 110.1, y: 156.021 }]} stroke="#e8101a" strokeWidth={2.5} ifOverflow="visible" zIndex={700} />
          <ReferenceLine segment={[{ x: 110.4, y: 155.73 }, { x: 113, y: 155.875 }]} stroke="#e8101a" strokeWidth={2.5} ifOverflow="visible" zIndex={700} />
          <ReferenceLine segment={[{ x: 111.9, y: 155.86 }, { x: 113, y: 155.875 }]} stroke="#e8101a" strokeWidth={2.5} ifOverflow="visible" zIndex={700} />
          <ReferenceLine segment={[{ x: 113.6, y: 155.855 }, { x: 113, y: 155.875 }]} stroke="#e8101a" strokeWidth={2.5} ifOverflow="visible" zIndex={700} />
        </Panel>
      </div>

      <PriceTags panelTop={0} left={1713} yDomain={h1YDomain} prices={h1TagPrices} shifts={h1TagShifts} redLevels={h1RedLevels} />
      <PriceTags panelTop={1280} left={1710} yDomain={m15YDomain} prices={m15TagPrices} shifts={m15TagShifts} redLevels={m15RedLevels} />

      {/* top panel furniture */}
      <Box left={0} top={0} width={3} height={1280} style={{ background: '#eceef2' }} />
      <Box left={0} top={0} width={1818} height={2} style={{ background: '#f0f1f4' }} />
      <Header
        top={17}
        title="米ドル／円・1時間・OANDA"
        titleLeft={62}
        titleSize={28.3}
        pillLeft={442}
        items={[
          { left: 531, label: '始値', value: '155.952' },
          { left: 680, label: '高値', value: '155.968' },
          { left: 827, label: '安値', value: '155.868' },
          { left: 973, label: '終値', value: '155.952' },
        ]}
      />
      <CountBox left={20} top={65} />
      <JpyBox left={1720} top={11} />
      <Logo left={26} top={1180} iconWidth={54} textLeft={95} />
      <Bolt cx={1567} cy={1210} id="boltA" />
      <Gear left={1757} top={1247} />
      <TimeBlock
        left={1096}
        top={1234}
        width={594}
        color={PINK}
        items={[
          [1109, '2'],
          [1134, '2025-12-24 (水)'],
          [1312, '01:00'],
          [1396, '2025-12-25 (木)'],
          [1572, '01:00'],
          [1646, ':00'],
        ]}
      />

      {/* bottom panel furniture */}
      <Box left={8} top={1297} width={1065} height={33} style={{ background: 'rgba(255,255,255,0.48)' }} />
      <Header
        top={1296}
        title="米ドル／円・15・OANDA"
        titleLeft={60}
        titleSize={27.7}
        pillLeft={393}
        items={[
          { left: 482, label: '始値', value: '155.904' },
          { left: 631, label: '高値', value: '155.968' },
          { left: 779, label: '安値', value: '155.888' },
          { left: 926, label: '終値', value: '155.952' },
        ]}
      />
      <CountBox left={16} top={1344} />
      <JpyBox left={1717} top={1290} />
      <Logo left={22} top={2459} iconWidth={55} textLeft={91} />
      <Bolt cx={1564} cy={2489} id="boltB" />
      <Gear left={1754} top={2526} />
      <TimeBlock
        left={68}
        top={2513}
        width={540}
        color={PINK}
        items={[
          [83, '2025-12-'],
          [182, '2025-12-24 (水)'],
          [360, '01:45'],
          [433, '-24 (水)'],
          [534, '05:45'],
        ]}
      />
      <TimeBlock left={607} top={2513} width={56} color="#2962ff" items={[[607, '7:00']]} />
      <TimeBlock left={662} top={2513} width={85} color={PINK} items={[[674, '09:00']]} />
      <TimeBlock
        left={755}
        top={2513}
        width={341}
        color={PINK}
        items={[
          [771, '2025-12-24 (水)'],
          [950, '15:15'],
          [1025, '17:00'],
        ]}
      />
      <TimeBlock
        left={1115}
        top={2513}
        width={537}
        color={PINK}
        items={[
          [1131, '2025-12-'],
          [1229, '2025-12-25 (木)'],
          [1406, '01:45'],
          [1480, '-25 (木)'],
          [1580, '05:45'],
        ]}
      />
    </div>
  );
}
